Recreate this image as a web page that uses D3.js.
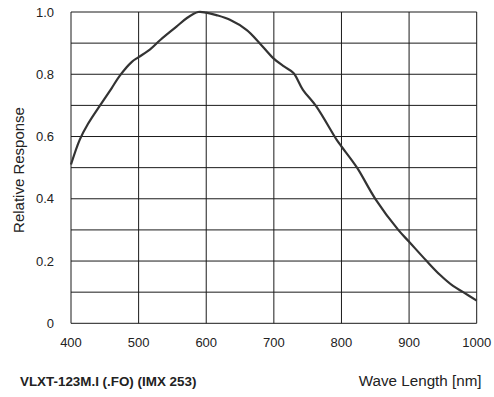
<!DOCTYPE html>
<html>
<head>
<meta charset="utf-8">
<script src="https://cdn.jsdelivr.net/npm/d3@7"></script>
<style>
  body { margin: 0; background: #fff; }
  svg { display: block; font-family: "Liberation Sans", Arial, sans-serif; }
</style>
</head>
<body>
<div id="chart"></div>
<script>
// spectral response
const waveLength = [400, 413, 425, 443, 460, 472, 490, 500, 517, 532, 556, 571, 588, 600, 615, 635, 660, 679, 699, 715, 729, 743, 763, 793, 800, 823, 850, 884, 900, 926, 946, 965, 980, 1000];
const response = [0.51, 0.59, 0.64, 0.7, 0.755, 0.795, 0.84, 0.855, 0.88, 0.91, 0.953, 0.98, 1.0, 0.998, 0.99, 0.975, 0.942, 0.9, 0.852, 0.825, 0.804, 0.75, 0.696, 0.589, 0.568, 0.5, 0.4, 0.3, 0.262, 0.2, 0.155, 0.12, 0.1, 0.073];
const xTicks = [400, 500, 600, 700, 800, 900, 1000];
const yTicks = [0, 0.2, 0.4, 0.6, 0.8, 1.0];
const yGrid = [0, 0.1, 0.2, 0.3, 0.4, 0.5, 0.6, 0.7, 0.8, 0.9, 1.0];

const width = 494;
const height = 397;
const margin = {top: 12, right: 17.3, bottom: 73.7, left: 71};

const svg = d3.select('#chart').append('svg')
    .attr('width', width)
    .attr('height', height);

const x = d3.scaleLinear().domain([400, 1000]).range([margin.left, width - margin.right]);
const y = d3.scaleLinear().domain([0, 1]).range([height - margin.bottom, margin.top]);

// grid
svg.append('g')
    .selectAll('line')
    .data(yGrid)
    .join('line')
    .attr('x1', x(400)).attr('x2', x(1000))
    .attr('y1', d => y(d)).attr('y2', d => y(d))
    .attr('stroke', '#1a1a1a')
    .attr('stroke-width', 1);

svg.append('g')
    .selectAll('line')
    .data(xTicks)
    .join('line')
    .attr('x1', d => x(d)).attr('x2', d => x(d))
    .attr('y1', y(0)).attr('y2', y(1))
    .attr('stroke', '#1a1a1a')
    .attr('stroke-width', 1);

// tick labels
svg.append('g')
    .selectAll('text')
    .data(xTicks)
    .join('text')
    .attr('x', d => x(d))
    .attr('y', 346.5)
    .attr('text-anchor', 'middle')
    .style('font-size', '13px')
    .attr('fill', '#222')
    .text(d => d);

svg.append('g')
    .selectAll('text')
    .data(yTicks)
    .join('text')
    .attr('x', 54)
    .attr('y', d => y(d) + 4.5)
    .attr('text-anchor', 'end')
    .style('font-size', '13px')
    .attr('fill', '#222')
    .text(d => d === 0 ? '0' : d.toFixed(1));

// curve
const line = d3.line()
    .x((d, i) => x(waveLength[i]))
    .y(d => y(d))
    .curve(d3.curveCatmullRom.alpha(0.5));

svg.append('path')
    .datum(response)
    .attr('d', line)
    .attr('fill', 'none')
    .attr('stroke', '#333')
    .attr('stroke-width', 2.2)
    .attr('stroke-linejoin', 'round');

// titles
svg.append('text')
    .attr('transform', 'translate(24,170) rotate(-90)')
    .attr('text-anchor', 'middle')
    .style('font-size', '15px')
    .attr('fill', '#222')
    .text('Relative Response');

svg.append('text')
    .attr('x', 20)
    .attr('y', 386)
    .style('font-size', '13.4px')
    .style('font-weight', 'bold')
    .attr('fill', '#222')
    .text('VLXT-123M.I (.FO) (IMX 253)');

svg.append('text')
    .attr('x', 481.5)
    .attr('y', 386)
    .attr('text-anchor', 'end')
    .style('font-size', '15.2px')
    .attr('fill', '#222')
    .text('Wave Length [nm]');
</script>
</body>
</html>
